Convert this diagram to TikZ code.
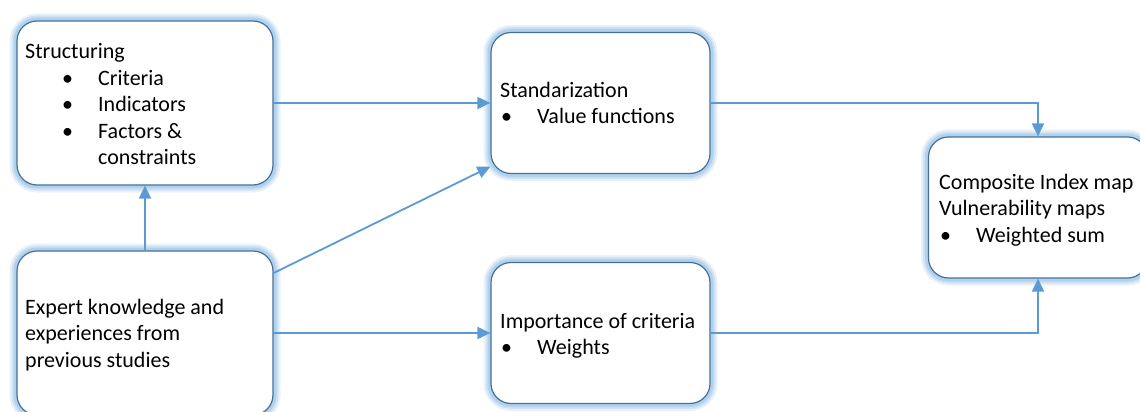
\documentclass[tikz,border=0pt]{standalone}
\usepackage{fontspec}
\setmainfont{Carlito}
\usetikzlibrary{arrows.meta}
\definecolor{link}{HTML}{5B9BD5}
\definecolor{rim}{HTML}{41719C}
\definecolor{glow}{HTML}{9DC3E6}

\newcommand{\itm}[2]{\hspace*{#1}\makebox[36pt][l]{\textbullet}#2}

\tikzset{
  panel/.style={rectangle, rounded corners=20pt, fill=white, draw=rim,
    line width=1.2pt, inner sep=0pt,
    preaction={draw=glow, line width=15pt, draw opacity=.22},
    preaction={draw=glow, line width=11pt, draw opacity=.35},
    preaction={draw=glow, line width=7pt, draw opacity=.55}},
  wide/.style={panel, minimum width=256pt, minimum height=164pt},
  narrow/.style={panel, minimum width=219pt, minimum height=141pt},
  label/.style={anchor=base west, inner sep=0pt,
    font=\fontsize{22}{26.5}\selectfont},
  link/.style={draw=link, line width=1.8pt,
    -{Triangle[length=13pt,width=12pt]}}
}

\begin{document}
\begin{tikzpicture}[x=1pt, y=-1pt]
\useasboundingbox (0,0) rectangle (1140,412);

% boxes
\node[wide]   (s) at (145,103)     {};
\node[wide]   (e) at (145,333)     {};
\node[narrow] (z) at (600.5,103)   {};
\node[narrow] (i) at (600.5,333)   {};
\node[narrow] (c) at (1038,207.5)  {};

% texts
\node[label] (ts) at (25,59) {\begin{tabular}[t]{@{}l@{}}
  Structuring\\
  \itm{37pt}{Criteria}\\
  \itm{37pt}{Indicators}\\
  \itm{37pt}{Factors \&}\\
  \hspace*{73pt}constraints
\end{tabular}};
\node[label] (tz) at (500,97) {\begin{tabular}[t]{@{}l@{}}
  Standarization\\
  \itm{1pt}{Value functions}
\end{tabular}};
\node[label] (tc) at (939,189) {\begin{tabular}[t]{@{}l@{}}
  Composite Index map\\
  Vulnerability maps\\
  \itm{1pt}{Weighted sum}
\end{tabular}};
\node[label] (te) at (25,314) {\begin{tabular}[t]{@{}l@{}}
  Expert knowledge and\\
  experiences from\\
  previous studies
\end{tabular}};
\node[label] (ti) at (500,328) {\begin{tabular}[t]{@{}l@{}}
  Importance of criteria\\
  \itm{1pt}{Weights}
\end{tabular}};

% connectors
\draw[link] (s.east) -- (z.west);
\draw[link] (e.north) -- (s.south);
\draw[link] (e.25) -- (z.210);
\draw[link] (e.east) -- (i.west);
\draw[link] (z.east) -| (c.north);
\draw[link] (i.east) -| (c.south);
\end{tikzpicture}
\end{document}
